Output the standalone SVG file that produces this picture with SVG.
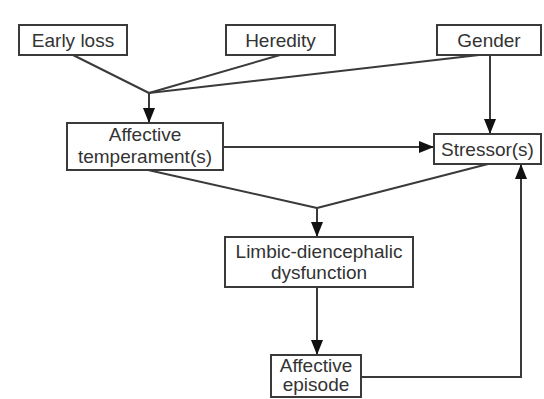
<svg xmlns="http://www.w3.org/2000/svg" width="544" height="399" viewBox="0 0 544 399">
  <style>
    .box { fill: #ffffff; stroke: #3a3a3a; stroke-width: 2; }
    .lbl { font-family: "Liberation Sans", Arial, sans-serif; font-size: 19px; fill: #333333; text-anchor: middle; }
    .wire { fill: none; stroke: #3a3a3a; stroke-width: 2; }
  </style>
  <defs>
    <marker id="arrow" markerUnits="userSpaceOnUse" markerWidth="15" markerHeight="12" refX="15" refY="6" orient="auto">
      <path d="M0,0 L15,6 L0,12 Z" fill="#111111"/>
    </marker>
  </defs>
  <rect width="544" height="399" fill="#ffffff"/>

  <g id="connectors">
    <line class="wire" x1="73" y1="55" x2="149" y2="93"/>
    <line class="wire" x1="280" y1="55" x2="149" y2="93"/>
    <line class="wire" x1="479" y1="55" x2="149" y2="93"/>
    <line class="wire" x1="149" y1="93" x2="149" y2="123" marker-end="url(#arrow)"/>
    <line class="wire" x1="490" y1="55" x2="490" y2="134" marker-end="url(#arrow)"/>
    <line class="wire" x1="223" y1="147" x2="434" y2="147" marker-end="url(#arrow)"/>
    <line class="wire" x1="148" y1="170" x2="317" y2="208"/>
    <line class="wire" x1="488" y1="164" x2="317" y2="208"/>
    <line class="wire" x1="317" y1="208" x2="317" y2="237" marker-end="url(#arrow)"/>
    <line class="wire" x1="317" y1="287" x2="317" y2="355" marker-end="url(#arrow)"/>
    <polyline class="wire" points="361,377 521,377 521,164" marker-end="url(#arrow)"/>
  </g>

  <g id="early-loss">
    <rect class="box" x="19" y="25" width="108" height="30"/>
    <text class="lbl" x="73" y="47">Early loss</text>
  </g>
  <g id="heredity">
    <rect class="box" x="226" y="25" width="109" height="30"/>
    <text class="lbl" x="280.5" y="47">Heredity</text>
  </g>
  <g id="gender">
    <rect class="box" x="437" y="25" width="104" height="30"/>
    <text class="lbl" x="489" y="47">Gender</text>
  </g>
  <g id="affective-temperament">
    <rect class="box" x="67" y="123" width="156" height="47"/>
    <text class="lbl" x="145" y="141">Affective</text>
    <text class="lbl" x="145" y="163">temperament(s)</text>
  </g>
  <g id="stressors">
    <rect class="box" x="434" y="134" width="107" height="30"/>
    <text class="lbl" x="487.5" y="156">Stressor(s)</text>
  </g>
  <g id="limbic-diencephalic">
    <rect class="box" x="225" y="237" width="188" height="50"/>
    <text class="lbl" x="319" y="258">Limbic-diencephalic</text>
    <text class="lbl" x="319" y="279">dysfunction</text>
  </g>
  <g id="affective-episode">
    <rect class="box" x="271" y="355" width="90" height="42"/>
    <text class="lbl" x="316" y="372">Affective</text>
    <text class="lbl" x="316" y="391">episode</text>
  </g>
</svg>
